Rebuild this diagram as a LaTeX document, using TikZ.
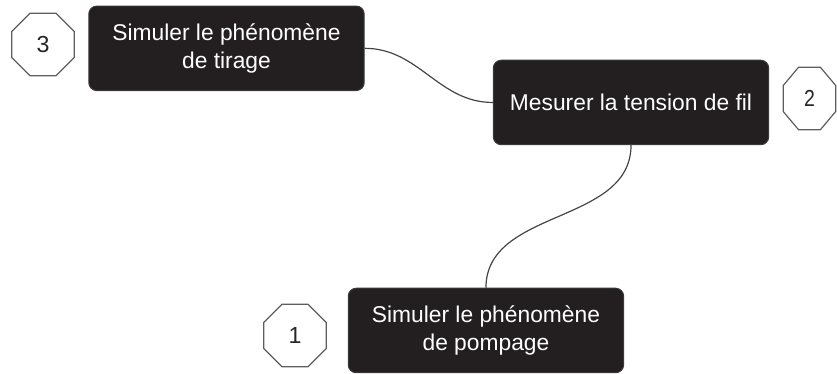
\documentclass[tikz,border=0pt]{standalone}
\usepackage{fontspec}
\setmainfont{Liberation Sans}
\usetikzlibrary{shapes.geometric, positioning}
\definecolor{mapDarkF}{HTML}{231F20}
\definecolor{mapDarkS}{HTML}{3A3A3A}
\definecolor{mapGrayS}{HTML}{5E5E5E}
\definecolor{mapLink}{HTML}{454545}
\tikzset{
  task/.style={rectangle, rounded corners=4pt, draw=mapDarkS, fill=mapDarkF,
    line width=0.5pt, minimum width=4.84cm, minimum height=1.485cm,
    align=center, text=white, inner sep=2pt,
    font=\fontsize{11.4}{14}\selectfont},
  num/.style={regular polygon, regular polygon sides=8, draw=mapGrayS,
    fill=white, line width=0.6pt, minimum size=1.19cm, inner sep=0pt,
    text=black!85, font=\fontsize{11.6}{14}\selectfont},
  link/.style={line width=0.6pt, draw=mapLink},
}
\begin{document}
\begin{tikzpicture}
  \useasboundingbox (0,0) rectangle (14.709,-6.572);

  % ---- Top row: tirage and tension ------------------------------------------
  \node[task] (tirage)  at (3.980,-0.849)  {Simuler le phénomène\\de tirage};
  \node[num]  (n3)      at (0.756,-0.782)  {3};
  \node[task] (tension) at (11.089,-1.801) {Mesurer la tension de fil};
  \node[num, xscale=0.84, transform shape] (n2) at (14.225,-1.731) {2};

  % ---- Bottom: pompage ------------------------------------------------------
  \node[task] (pompage) at (8.540,-5.808)  {Simuler le phénomène\\de pompage};
  \node[num]  (n1)      at (5.184,-5.896)  {1};

  % curved links between the tasks
  \draw[link] (tirage.east) to[out=0,in=180] (tension.west);
  \draw[link] (tension.south) to[out=-90,in=90] (pompage.north);

\end{tikzpicture}
\end{document}
